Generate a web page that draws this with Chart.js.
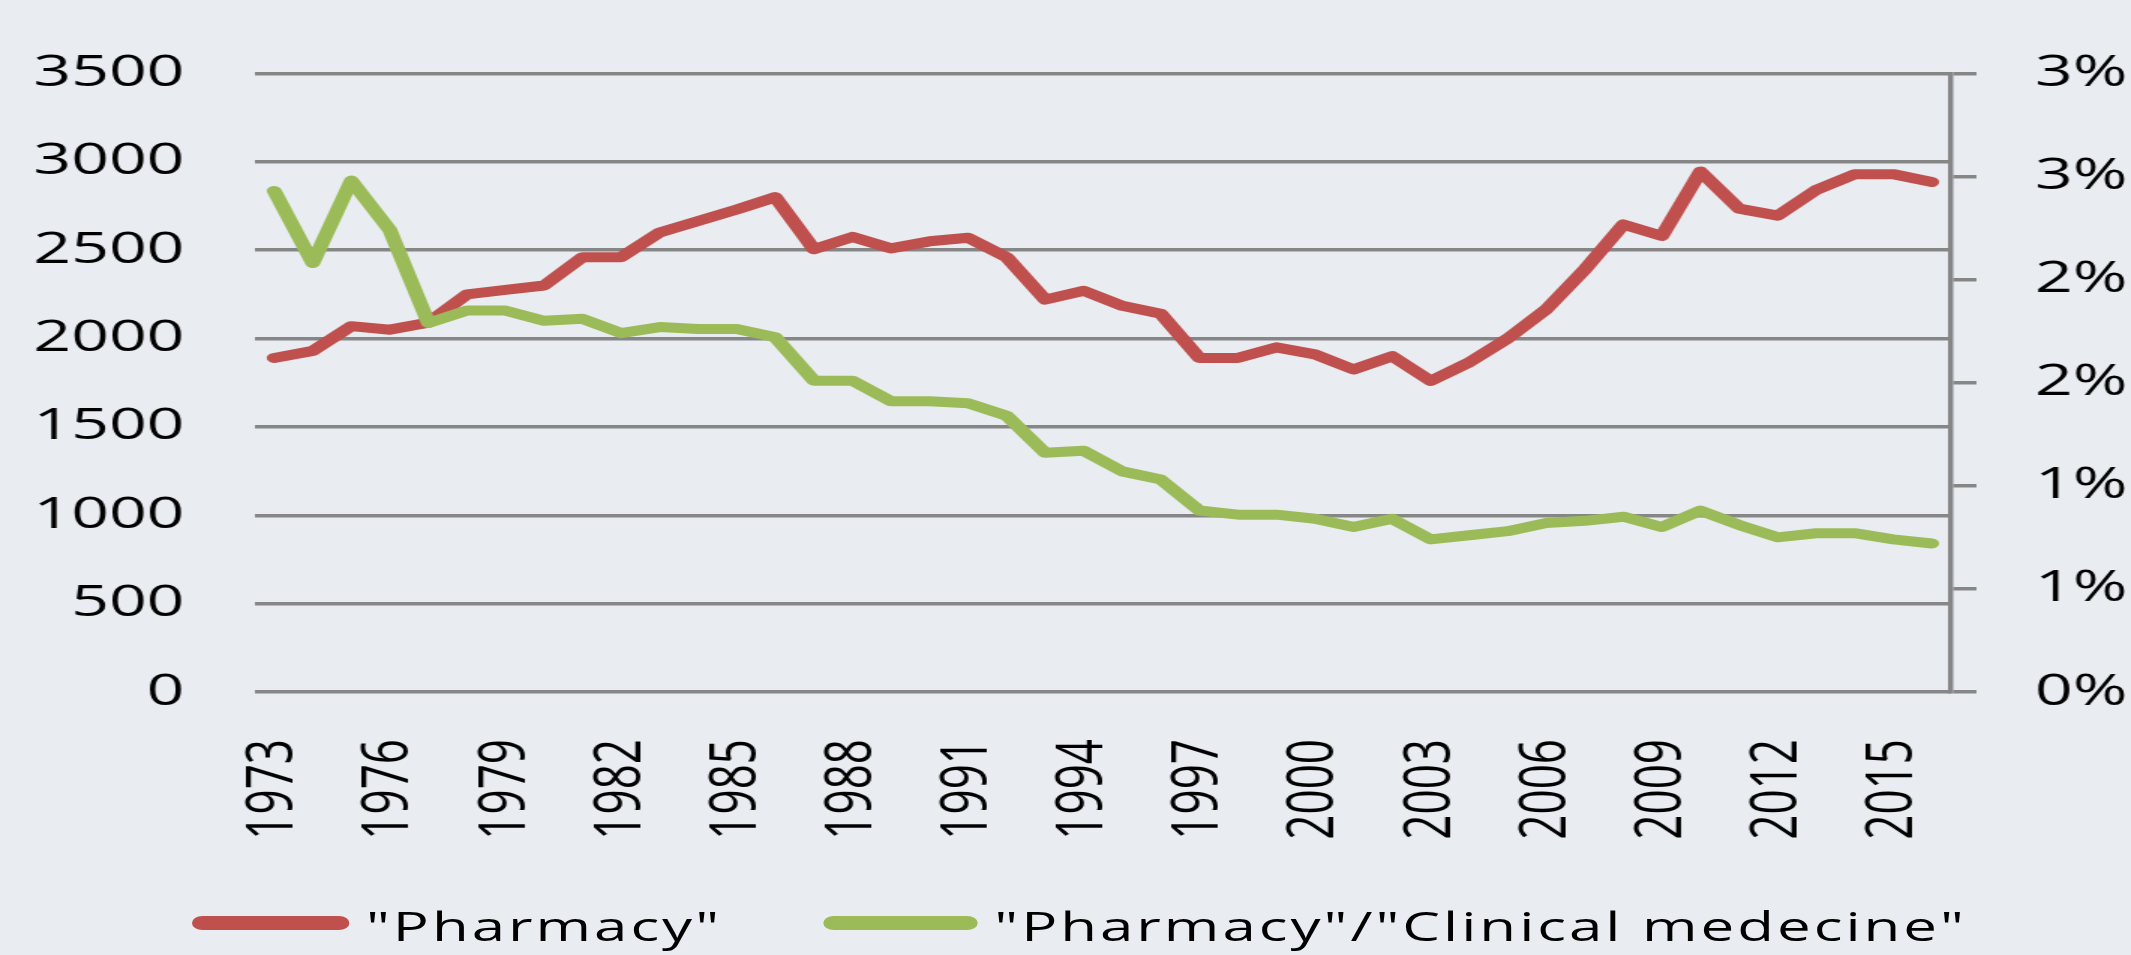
<!DOCTYPE html>
<html>
<head>
<meta charset="utf-8">
<title>Pharmacy</title>
<script src="https://cdn.jsdelivr.net/npm/chart.js@4.4.1/dist/chart.umd.min.js"></script>
<style>
    html, body {
        margin: 0;
        padding: 0;
        background: #E9EDF2;
        overflow: hidden;
    }
    /* the whole picture is stretched sideways, like the original */
    #wrap {
        position: absolute;
        left: 0;
        top: 0;
        width: 1421px;
        height: 955px;
        transform: scaleX(1.4996);
        transform-origin: 0 0;
    }
    #chart {
        position: absolute;
        left: 0;
        top: 0;
    }
    .legend-line {
        position: absolute;
        top: 916px;
        height: 14px;
        border-radius: 7px;
    }
    .legend-text {
        position: absolute;
        top: 906px;
        font-family: 'Open Sans';
        font-size: 40px;
        line-height: 40px;
        letter-spacing: 2px;
        white-space: nowrap;
        color: #000;
    }
</style>
</head>
<body>
<div id="wrap">
    <canvas id="chart" width="1421" height="955" style="width:1421px;height:955px"></canvas>
    <div class="legend-line" style="left:128px;width:105px;background:#C0504D"></div>
    <div class="legend-text" style="left:244px">&quot;Pharmacy&quot;</div>
    <div class="legend-line" style="left:549px;width:103px;background:#9BBB59"></div>
    <div class="legend-text" style="left:663px">&quot;Pharmacy&quot;/&quot;Clinical medecine&quot;</div>
</div>

<script>
// Dữ liệu
const years = [
    1973, 1974, 1975, 1976, 1977, 1978, 1979, 1980, 1981, 1982, 1983,
    1984, 1985, 1986, 1987, 1988, 1989, 1990, 1991, 1992, 1993, 1994,
    1995, 1996, 1997, 1998, 1999, 2000, 2001, 2002, 2003, 2004, 2005,
    2006, 2007, 2008, 2009, 2010, 2011, 2012, 2013, 2014, 2015, 2016
]
const tickYears = [1973, 1976, 1979, 1982, 1985, 1988, 1991, 1994, 1997, 2000, 2003, 2006, 2009, 2012, 2015]

// "Pharmacy" - left axis
const pharmacy = [
    1890, 1930, 2070, 2050, 2090, 2250, 2275, 2300, 2460, 2460, 2600,
    2665, 2730, 2800, 2505, 2575, 2510, 2550, 2570, 2460, 2220, 2270,
    2185, 2140, 1890, 1890, 1950, 1910, 1825, 1900, 1760, 1865, 2000,
    2165, 2390, 2645, 2580, 2945, 2735, 2695, 2840, 2930, 2930, 2885
]

// "Pharmacy"/"Clinical medecine" in % - right axis
const ratio = [
    2.43, 2.08, 2.48, 2.24, 1.79, 1.85, 1.85, 1.80, 1.81, 1.74, 1.77,
    1.76, 1.76, 1.72, 1.51, 1.51, 1.41, 1.41, 1.40, 1.34, 1.16, 1.17,
    1.07, 1.03, 0.88, 0.86, 0.86, 0.84, 0.80, 0.84, 0.74, 0.76, 0.78,
    0.82, 0.83, 0.85, 0.80, 0.88, 0.81, 0.75, 0.77, 0.77, 0.74, 0.72
]

const gridColor = '#868686'
const tickFont = { family: 'Open Sans', size: 44 }

new Chart(document.getElementById('chart'), {
    type: 'line',
    data: {
        labels: years,
        datasets: [
            {
                label: '"Pharmacy"',
                data: pharmacy,
                yAxisID: 'y',
                borderColor: '#C0504D',
                borderWidth: 10,
                borderCapStyle: 'round',
                borderJoinStyle: 'round',
                pointRadius: 0,
                tension: 0,
                order: 1
            },
            {
                label: '"Pharmacy"/"Clinical medecine"',
                data: ratio,
                yAxisID: 'y1',
                borderColor: '#9BBB59',
                borderWidth: 10,
                borderCapStyle: 'round',
                borderJoinStyle: 'round',
                pointRadius: 0,
                tension: 0,
                order: 0
            }
        ]
    },
    options: {
        responsive: false,
        animation: false,
        layout: { padding: { top: 67, left: 0, right: 0, bottom: 0 } },
        plugins: {
            legend: { display: false },
            tooltip: { enabled: false }
        },
        scales: {
            x: {
                offset: true,
                grid: { display: false, drawTicks: false },
                border: { display: false },
                ticks: {
                    autoSkip: false,
                    minRotation: 90,
                    maxRotation: 90,
                    padding: 47,
                    color: '#000',
                    font: tickFont,
                    callback: (value, index) => tickYears.includes(years[index]) ? String(years[index]) : ''
                },
                afterFit: scale => { scale.height = 263 }
            },
            y: {
                position: 'left',
                min: 0,
                max: 3500,
                grid: { color: gridColor, lineWidth: 3.5, drawTicks: false },
                border: { display: false },
                ticks: {
                    stepSize: 500,
                    padding: 47,
                    color: '#000',
                    font: tickFont,
                    callback: value => String(value)
                },
                afterFit: scale => { scale.width = 170 }
            },
            y1: {
                position: 'right',
                min: 0,
                max: 3,
                grid: { drawOnChartArea: false, color: gridColor, lineWidth: 3.5, tickLength: 17 },
                border: { display: true, color: gridColor, width: 3.5 },
                ticks: {
                    stepSize: 0.5,
                    padding: 39,
                    color: '#000',
                    font: tickFont,
                    callback: value => Math.round(value) + '%'
                },
                afterFit: scale => { scale.width = 120 }
            }
        }
    }
})
</script>
</body>
</html>
